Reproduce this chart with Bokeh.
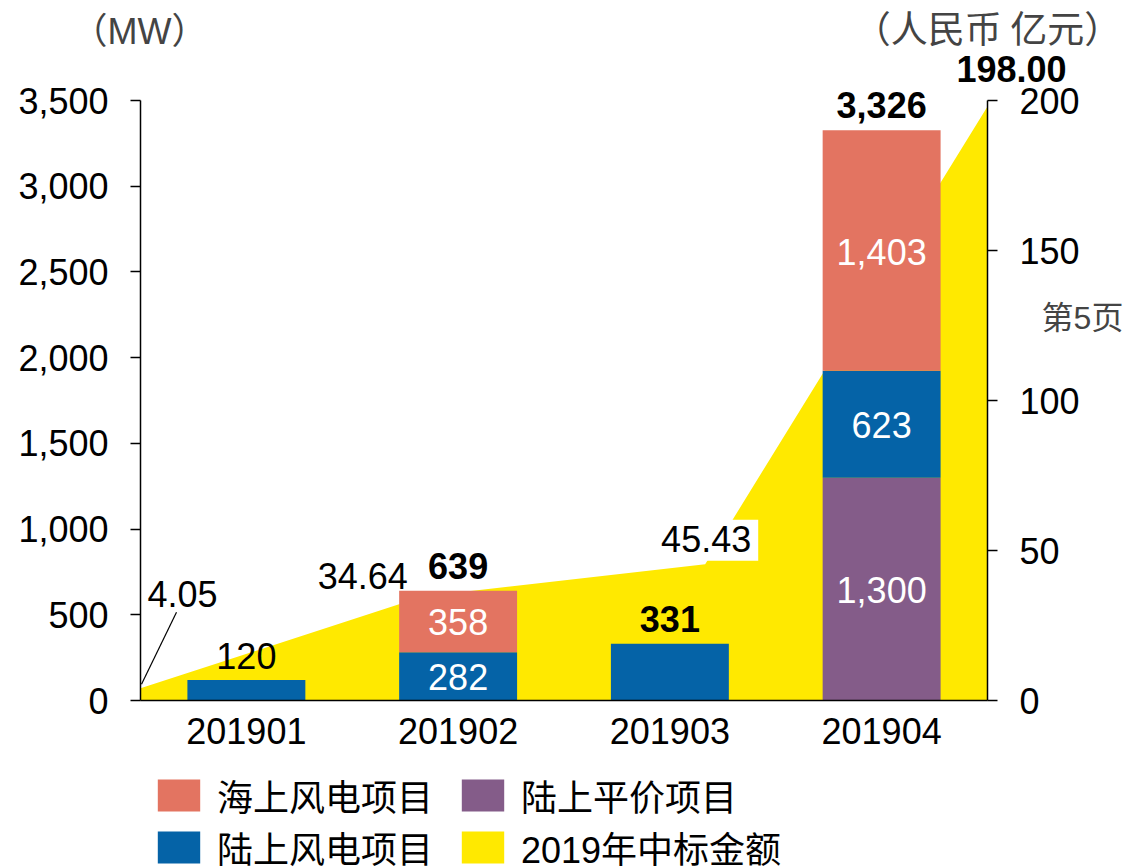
import numpy as np
from bokeh.plotting import figure
from bokeh.models import (Range1d, LinearAxis, FixedTicker, NumeralTickFormatter,
                          ColumnDataSource, Label, Legend, LegendItem)
from bokeh.embed import file_html
from bokeh.resources import INLINE

# ---------------- data ----------------
categories = ["201901", "201902", "201903", "201904"]
onshore_parity = [0, 0, 0, 1300]        # 陆上平价项目 (MW)
onshore_wind = [120, 282, 331, 623]     # 陆上风电项目 (MW)
offshore_wind = [0, 358, 0, 1403]       # 海上风电项目 (MW)
bar_totals = [120, 639, 331, 3326]      # labelled totals (MW)
award_amount = [4.05, 34.64, 45.43, 198.00]   # 2019年中标金额 (人民币 亿元)
left_ticks = [0, 500, 1000, 1500, 2000, 2500, 3000, 3500]
right_ticks = [0, 50, 100, 150, 200]
legend_labels = ["海上风电项目", "陆上风电项目", "陆上平价项目", "2019年中标金额"]

# ---------------- style / layout ----------------
C_OFF = "#E37461"
C_ON = "#0563A7"
C_PAR = "#845C89"
C_YEL = "#FFE900"
FONT = "Liberation Sans"
MIXED = "'Liberation Sans', 'Noto Sans CJK SC'"
FS = "36px"

W, H = 1133, 868
# axes box inside the canvas (pixels)
AX_L, AX_R, AX_T, AX_B = 140, 987, 100, 700

n = len(categories)
px_x = (AX_R - AX_L) / n                       # pixels per category
px_yl = (AX_B - AX_T) / left_ticks[-1]         # pixels per MW
px_yr = (AX_B - AX_T) / right_ticks[-1]        # pixels per 亿元

x_range = Range1d(-AX_L / px_x, n + (W - AX_R) / px_x)
y_range = Range1d(-(H - AX_B) / px_yl, left_ticks[-1] + AX_T / px_yl)
yr_range = Range1d(-(H - AX_B) / px_yr, right_ticks[-1] + AX_T / px_yr)

p = figure(width=W, height=H, x_range=x_range, y_range=y_range,
           output_backend="svg", toolbar_location=None, min_border=0,
           x_axis_location=None, y_axis_location=None)
p.outline_line_color = None
p.grid.visible = False
p.background_fill_color = "white"
p.border_fill_color = "white"
p.extra_y_ranges = {"right": yr_range}

# yellow area (secondary axis), spanning the full category axis
xs_area = np.linspace(0, n, len(award_amount))
area = p.varea(x=xs_area, y1=0, y2=award_amount, fill_color=C_YEL, y_range_name="right")

# stacked bars
xc = np.arange(n) + 0.5
src = ColumnDataSource(dict(x=xc, parity=onshore_parity, onshore=onshore_wind, offshore=offshore_wind))
bars = p.vbar_stack(["parity", "onshore", "offshore"], x="x", width=0.557,
                    fill_color=[C_PAR, C_ON, C_OFF], line_color=None, source=src)

# inside (white) segment labels
for i in range(n):
    segs = [onshore_parity[i], onshore_wind[i], offshore_wind[i]]
    if sum(1 for s in segs if s > 0) > 1:
        base = 0
        for s in segs:
            if s > 0:
                p.add_layout(Label(x=xc[i], y=base + s / 2, text=f"{s:,}", text_align="center",
                                   text_baseline="middle", y_offset=-1, text_color="white",
                                   text_font=FONT, text_font_size=FS))
            base += s

# labels above bars
for i in range(n):
    segs = [onshore_parity[i], onshore_wind[i], offshore_wind[i]]
    bold = i > 0
    p.add_layout(Label(x=xc[i], y=sum(segs), text=f"{bar_totals[i]:,}", text_align="center",
                       text_baseline="middle", y_offset=25 if bold else 24, text_color="black",
                       text_font=FONT, text_font_size=FS,
                       text_font_style="bold" if bold else "normal"))

# amount labels: (align, x_offset, y_offset, bold, boxed)
amt_style = [
    ("left", 7, 94, False, False),
    ("right", -15, 21, False, False),
    ("center", 1, 24, False, True),
    ("center", 24, 38, True, False),
]
for i, a in enumerate(award_amount):
    al, dx, dy, bold, boxed = amt_style[i]
    kw = {}
    if boxed:
        kw = dict(background_fill_color="white",
                  padding=dict(left=7, right=7, top=6, bottom=9))
    p.add_layout(Label(x=xs_area[i], y=a, y_range_name="right", text=f"{a:.2f}",
                       text_align=al, text_baseline="middle", x_offset=dx, y_offset=dy,
                       text_color="black", text_font=FONT, text_font_size=FS,
                       text_font_style="bold" if bold else "normal", **kw))

# leader line for the first amount label
p.segment(x0=xs_area[0] + 1 / px_x, y0=award_amount[0] + 4 / px_yr,
          x1=xs_area[0] + 36 / px_x, y1=award_amount[0] + 76 / px_yr,
          line_color="black", line_width=1.2, y_range_name="right")

# axis unit titles and page note
p.add_layout(Label(x=0, y=left_ticks[-1], text="（MW）", text_align="center", x_offset=-1,
                   y_offset=69, text_baseline="middle", text_font=MIXED, text_font_size=FS))
p.add_layout(Label(x=n, y=right_ticks[-1], y_range_name="right", text="（人民币 亿元）",
                   text_align="center", y_offset=74, text_baseline="middle",
                   text_font="Noto Sans CJK SC", text_font_size="37px"))
p.add_layout(Label(x=n, y=right_ticks[-1], y_range_name="right", text="第5页",
                   text_align="center", x_offset=95, y_offset=-217, text_baseline="middle",
                   text_font=MIXED, text_font_size="32px"))

# axes (drawn at fixed data locations inside the full-canvas frame)
def style_axis(ax):
    ax.axis_line_color = "black"
    ax.axis_line_width = 1.5
    ax.major_tick_line_color = "black"
    ax.major_tick_line_width = 1.5
    ax.minor_tick_out = 0
    ax.minor_tick_in = 0
    ax.major_label_text_font = FONT
    ax.major_label_text_font_size = FS
    ax.major_label_text_color = "black"

yl = LinearAxis(ticker=FixedTicker(ticks=left_ticks), formatter=NumeralTickFormatter(format="0,0"),
                fixed_location=0, bounds=(left_ticks[0], left_ticks[-1]))
style_axis(yl)
yl.major_tick_out = 10
yl.major_tick_in = 0
yl.major_label_standoff = 22
p.add_layout(yl, "left")

yr = LinearAxis(y_range_name="right", ticker=FixedTicker(ticks=right_ticks),
                fixed_location=n, bounds=(right_ticks[0], right_ticks[-1]))
style_axis(yr)
yr.major_tick_out = 10
yr.major_tick_in = 0
yr.major_label_standoff = 22
p.add_layout(yr, "right")

xa = LinearAxis(ticker=FixedTicker(ticks=list(xc)), fixed_location=0, bounds=(0, n))
style_axis(xa)
xa.major_label_overrides = {float(x): c for x, c in zip(xc, categories)}
xa.major_tick_out = 0
xa.major_tick_in = 0
xa.major_label_standoff = 17
p.add_layout(xa, "below")

# legend (2 x 2, below the chart)
legend = Legend(items=[
    LegendItem(label=legend_labels[0], renderers=[bars[2]]),
    LegendItem(label=legend_labels[1], renderers=[bars[1]]),
    LegendItem(label=legend_labels[2], renderers=[bars[0]]),
    LegendItem(label=legend_labels[3], renderers=[area]),
], location=(152, -5), orientation="vertical", ncols=2,
    glyph_width=53, glyph_height=40, label_height=40, label_width=239,
    label_standoff=12, spacing=0,
    padding=0, margin=0, border_line_color=None, background_fill_alpha=0,
    label_text_font=MIXED, label_text_font_size="36px", label_text_color="black")
p.add_layout(legend)

open("out.html", "w").write(file_html(p, INLINE))
